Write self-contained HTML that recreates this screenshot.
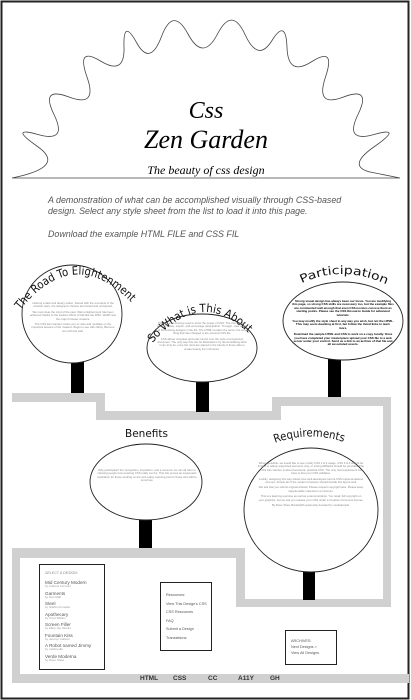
<!DOCTYPE html>
<html><head><meta charset="utf-8"><style>
html,body{margin:0;padding:0;background:#fff;}
body{width:411px;height:700px;position:relative;overflow:hidden;font-family:"Liberation Sans",sans-serif;}
.t{position:absolute;font-size:2.8px;line-height:3.4px;color:#888;text-align:center;}
.t p{margin:0 0 2px 0;}
.pb{position:absolute;font-size:3px;line-height:3.4px;color:#000;font-weight:bold;text-align:center;}
.pb p{margin:0 0 3px 0;}
.box{position:absolute;border:1.5px solid #222;background:#fff;box-sizing:border-box;}
.it{font-size:4.6px;color:#555;line-height:5px;}
.by{font-size:3px;color:#999;line-height:3.5px;margin-bottom:2px;}
.intro{position:absolute;left:48px;font-style:italic;font-size:8.9px;color:#555;font-family:"Liberation Sans",sans-serif;line-height:11px;white-space:nowrap;}
.nav{position:absolute;top:675px;font-size:6.5px;font-weight:bold;color:#333;}
</style></head><body>
<svg width="411" height="700" style="position:absolute;left:0;top:0">
<rect x="1.5" y="1.5" width="407" height="697" fill="none" stroke="#222" stroke-width="2"/>
<path d="M12,178 Q67,167 37.5,146.5 Q8,126 38,134.5 Q68,143 54,114.5 Q40,86 69,97 Q98,108 87,77 Q76,46 100.5,61 Q125,76 124,47 Q123,18 136.5,42.5 Q150,67 161.5,36.5 Q173,6 188,34 Q203,62 217.5,34 Q232,6 245,34.5 Q258,63 272,40.5 Q286,18 287,47.5 Q288,77 312,61.5 Q336,46 325.5,77 Q315,108 343.5,97 Q372,86 358,114.5 Q344,143 374,134.5 Q404,126 374.5,146.5 Q345,167 372.5,172.5 L400,178 Z" fill="none" stroke="#444" stroke-width="0.8"/>
<text x="206" y="118" text-anchor="middle" font-family="Liberation Serif,serif" font-style="italic" font-size="24">Css</text>
<text x="206" y="148" text-anchor="middle" font-family="Liberation Serif,serif" font-style="italic" font-size="26">Zen Garden</text>
<text x="206" y="174" text-anchor="middle" font-family="Liberation Serif,serif" font-style="italic" font-size="12">The beauty of css design</text>
<g fill="#d0d0d0">
<rect x="12" y="393" width="93" height="9"/>
<rect x="96" y="393" width="9" height="27"/>
<rect x="96" y="411" width="184" height="9"/>
<rect x="272" y="397" width="9" height="23"/>
<rect x="272" y="397" width="119" height="9"/>
<rect x="383" y="397" width="8" height="210"/>
<rect x="236" y="599" width="155" height="8"/>
<rect x="236" y="548" width="9" height="59"/>
<rect x="12" y="548" width="233" height="10"/>
<rect x="12" y="548" width="8" height="135"/>
<rect x="12" y="674" width="397" height="9"/>
</g>
<g fill="#000">
<rect x="71" y="362" width="13" height="31"/>
<rect x="196" y="381" width="13" height="31"/>
<rect x="328" y="359" width="13" height="38"/>
<rect x="139" y="519" width="13" height="29"/>
<rect x="303" y="571" width="12" height="29"/>
</g>
<g fill="#fff" stroke="#222" stroke-width="0.9">
<ellipse cx="72" cy="314" rx="50" ry="49"/>
<ellipse cx="202" cy="348" rx="55" ry="34"/>
<ellipse cx="343" cy="321" rx="60" ry="39"/>
<ellipse cx="146" cy="482" rx="56" ry="38"/>
<ellipse cx="311" cy="510" rx="67" ry="62"/>
</g>
<defs>
<path id="a1" d="M20,310 Q78,238 140,312"/>
<path id="a2" d="M150,346 Q205,278 260,346"/>
<path id="a3" d="M298,285 Q343,262 392,287"/>
<path id="a4" d="M275,443 Q310,430 347,443"/>
</defs>
<g font-family="DejaVu Sans,Liberation Sans,sans-serif" font-size="11.5" fill="#111">
<text><textPath href="#a1" textLength="132" lengthAdjust="spacingAndGlyphs">The Road To Elightenment</textPath></text>
<text><textPath href="#a2" textLength="112" startOffset="4" lengthAdjust="spacingAndGlyphs">So What is This About</textPath></text>
<text><textPath href="#a3" textLength="88" startOffset="4" lengthAdjust="spacingAndGlyphs">Participation</textPath></text>
<text x="125" y="437" font-size="10.5">Benefits</text>
<text><textPath href="#a4" textLength="70" lengthAdjust="spacingAndGlyphs">Requirements</textPath></text>
</g>
</svg>
<div class="intro" style="top:195px;">A demonstration of what can be accomplished visually through CSS-based<br>design. Select any style sheet from the list to load it into this page.</div>
<div class="intro" style="top:229px;">Download the example HTML FILE and CSS FIL</div>

<div class="t" style="left:30px;top:302px;width:86px;"><p>Littering a dark and dreary nation, littered with the remnants of the browser wars, the designer's choices are limited and uninspired.</p><p>We must clear the mind of the past. Web enlightenment has been achieved thanks to the tireless efforts of folk like the W3C, WaSP and the major browser creators.</p><p>The CSS Zen Garden invites you to relax and meditate on the important lessons of the masters. Begin to see with clarity. Become one with the web.</p></div>
<div class="t" style="left:157px;top:322px;width:90px;"><p>There is a continuing need to show the power of CSS. The Zen Garden aims to excite, inspire, and encourage participation. To begin, view some of the existing designs in the list. The HTML remains the same, the only thing that has changed is the external CSS file.</p><p>CSS allows complete and total control over the style of a hypertext document. The only way this can be illustrated is by demonstrating what it can truly be, once the reins are placed in the hands of those able to create beauty from structure.</p></div>
<div class="pb" style="left:292px;top:300px;width:102px;"><p>Strong visual design has always been our focus. You are modifying this page, so strong CSS skills are necessary too, but the example files are commented well enough that even CSS novices can use them as starting points. Please see the CSS Resource Guide for advanced tutorials.</p><p>You may modify the style sheet in any way you wish, but not the HTML. This may seem daunting at first, but follow the listed links to learn more.</p><p>Download the sample HTML and CSS to work on a copy locally. Once you have completed your masterpiece upload your CSS file to a web server under your control. Send us a link to an archive of that file and all associated assets.</p></div>
<div class="t" style="left:96px;top:469px;width:102px;"><p>Why participate? For recognition, inspiration, and a resource we can all refer to showing people how amazing CSS really can be. This site serves as equal parts inspiration for those working on the web today, learning tool for those who will be tomorrow.</p></div>
<div class="t" style="left:258px;top:462px;width:106px;"><p>Where possible, we would like to see mostly CSS 1 &amp; 2 usage. CSS 3 &amp; 4 should be limited to widely-supported elements only, or strong fallbacks should be provided. The CSS Zen Garden is about functional, practical CSS. The only real requirement we have is that your CSS validates.</p><p>Luckily, designing this way shows how well-developed current CSS implementations now are. Almost all of the modern browsers should handle this layout well.</p><p>We ask that you submit original artwork. Please respect copyright laws. Please keep objectionable material to a minimum.</p><p>This is a learning exercise as well as a demonstration. You retain full copyright on your graphics, but we ask you release your CSS under a Creative Commons license.</p><p>By Dave Shea. Bandwidth graciously donated by mediatemple.</p></div>

<div class="box" style="left:39px;top:564px;width:66px;height:106px;padding:6px 0 0 5px;">
<div style="font-size:3.6px;color:#888;font-style:italic;margin-bottom:5px;">SELECT A DESIGN:</div>
<div class="it">Mid Century Modern</div><div class="by">by Andrew Lohman</div>
<div class="it">Garments</div><div class="by">by Dan Mall</div>
<div class="it">Steel</div><div class="by">by Steffen Knoeller</div>
<div class="it">Apothecary</div><div class="by">by Trent Walton</div>
<div class="it">Screen Filler</div><div class="by">by Elliot Jay Stocks</div>
<div class="it">Fountain Kiss</div><div class="by">by Jeremy Carlson</div>
<div class="it">A Robot named Jimmy</div><div class="by">by meltmedia</div>
<div class="it">Verde Moderna</div><div class="by">by Dave Shea</div>
</div>
<div class="box" style="left:160px;top:582px;width:52px;height:69px;padding:8px 0 0 5px;font-size:3.8px;color:#555;line-height:8.5px;">
Resources:<br>View This Design's CSS<br>CSS Resources<br>FAQ<br>Submit a Design<br>Translations</div>
<div class="box" style="left:285px;top:630px;width:52px;height:35px;padding:7px 0 0 5px;font-size:3.8px;color:#555;line-height:6px;">
ARCHIVES:<br>Next Designs &gt;<br>View All Designs</div>

<div class="nav" style="left:140px;">HTML</div>
<div class="nav" style="left:173px;">CSS</div>
<div class="nav" style="left:208px;">CC</div>
<div class="nav" style="left:238px;">A11Y</div>
<div class="nav" style="left:270px;">GH</div>
</body></html>
